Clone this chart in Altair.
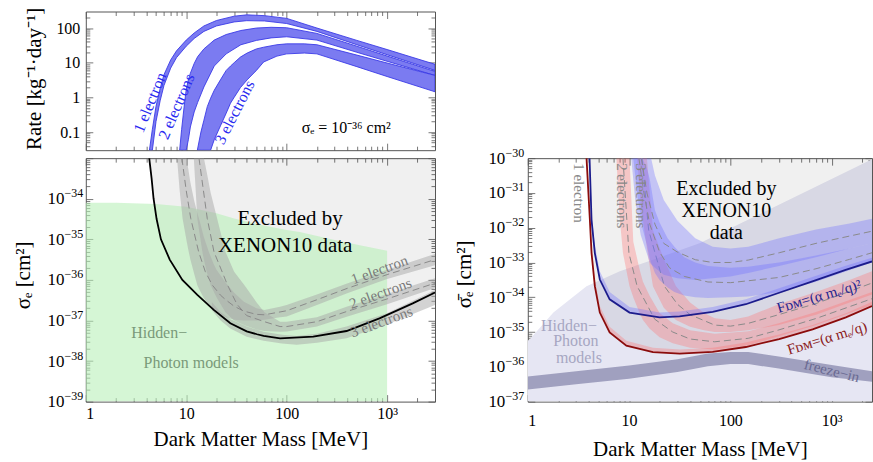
import math
import altair as alt
import pandas as pd

SERIF = "Liberation Serif"

# ---------------------------------------------------------------------------
# Axis ranges and tick labels
# ---------------------------------------------------------------------------
MASS_DOMAIN_L = [1, 3000]
MASS_DOMAIN_R = [1, 2500]
RATE_DOMAIN = [0.03, 300]
SIG_EXP_DOMAIN = [-39, -33]
SBAR_EXP_DOMAIN = [-37, -30]

MASS_TICKS = [1, 10, 100, 1000]
MASS_LABELS = ["1", "10", "100", "10³"]
RATE_TICKS = [0.1, 1, 10, 100]
RATE_LABELS = ["0.1", "1", "10", "100"]
SIG_TICK_EXPS = [-39, -38, -37, -36, -35, -34, -33]
SIG_LABEL_EXPS = [-39, -38, -37, -36, -35, -34]
SBAR_TICK_EXPS = [-37, -36, -35, -34, -33, -32, -31, -30]

# ---------------------------------------------------------------------------
# Upper panel: rates [kg^-1 day^-1] for sigma_e = 1e-36 cm^2 (band edges)
# ---------------------------------------------------------------------------
R1_M = [4.3, 4.6, 5, 5.5, 6, 7, 8, 10, 12, 15, 20, 30, 40, 60, 100, 200, 500, 1000, 3000]
R1_HI = [0.03, 0.12, 0.55, 1.8, 4.5, 12, 22, 45, 72, 115, 165, 220, 240, 228, 190, 100, 44, 24, 9]
R1_LO = [0.03, 0.03, 0.2, 0.8, 2.2, 7, 14, 30, 50, 80, 115, 150, 163, 160, 135, 80, 33, 17, 6]

R2_M = [8.6, 9, 9.5, 10, 10.5, 11, 12, 13, 15, 19, 25, 35, 50, 70, 100, 200, 500, 1000, 3000]
R2_HI = [0.03, 0.12, 0.5, 1.7, 3.2, 5, 9.5, 15, 25, 45, 65, 85, 100, 105, 102, 70, 30, 15.6, 5.6]
R2_LO = [0.03, 0.03, 0.03, 0.03, 0.06, 0.14, 0.38, 0.72, 2, 8, 18, 33, 44, 52, 56, 45, 20, 11, 4.3]

R3_M = [12.9, 14, 15, 16.2, 17.5, 19, 21.9, 25, 27.6, 30, 34.6, 40.4, 50, 59, 80, 100, 150, 200, 500, 1000, 3000]
R3_HI = [0.03, 0.1, 0.22, 0.54, 0.95, 1.6, 3.2, 6, 8, 10, 14.5, 19, 25, 28, 33, 35, 35, 33, 16.6, 9.8, 4.3]
R3_LO = [0.03, 0.03, 0.03, 0.03, 0.03, 0.06, 0.15, 0.35, 0.68, 1.0, 1.9, 3.2, 6, 10.5, 15.5, 18, 19, 18, 7.7, 4.0, 1.45]

# ---------------------------------------------------------------------------
# Lower-left panel: log10(sigma_e / cm^2)
# ---------------------------------------------------------------------------
LIM_M = [4.28, 4.52, 4.73, 5.07, 5.6, 6.85, 9.15, 12.9, 18.8, 27.5, 40, 50.6, 59, 86, 184, 395, 840, 1800, 3000]
LIM_V = [-33.0, -33.5, -34.0, -34.5, -35.0, -35.5, -36.0, -36.37, -36.74, -37.07, -37.27, -37.34, -37.38,
         -37.44, -37.40, -37.26, -36.95, -36.58, -36.31]

HP_M = [1, 2, 5, 10, 20, 30, 50, 100, 135, 300, 600, 1000]
HP_V = [-34.1, -34.1, -34.13, -34.2, -34.36, -34.49, -34.62, -34.77, -34.82, -35.02, -35.17, -35.28]

SA_M = [8.1, 8.6, 9.2, 10.1, 10.6, 11, 12, 12.9, 13.4, 15, 16.8, 18.7, 20, 25, 30, 37.5, 50, 60, 86, 100,
        200, 400, 1000, 3000]
SA_LO = [-33.0, -33.8, -34.49, -35.05, -35.31, -35.5, -35.85, -36.13, -36.22, -36.45, -36.62, -36.75, -36.8,
         -36.92, -36.98, -37.0, -37.0, -36.98, -36.92, -36.9, -36.62, -36.33, -35.98, -35.64]
SA_HI = [-33.0, -33.0, -33.0, -33.0, -33.35, -33.6, -34.05, -34.35, -34.49, -34.95, -35.31, -35.6, -35.75,
         -36.08, -36.32, -36.54, -36.7, -36.74, -36.66, -36.62, -36.36, -36.09, -35.75, -35.36]
SA_CM = [9.05, 10, 11.1, 13.3, 15.5, 18.2, 22, 25, 30, 37.5, 50, 60, 86, 100, 200, 400, 1000, 3000]
SA_CV = [-33.0, -33.8, -34.49, -35.31, -35.8, -36.13, -36.38, -36.5, -36.65, -36.77, -36.85, -36.86, -36.79,
         -36.76, -36.49, -36.21, -35.87, -35.5]

SB_M = [11.9, 12.9, 14.5, 15, 16, 17.5, 20.3, 24.6, 30, 38, 50, 60, 86, 100, 200, 395, 1000, 3000]
SB_LO = [-33.0, -34.49, -35.31, -35.5, -35.8, -36.13, -36.45, -36.8, -37.0, -37.12, -37.22, -37.26, -37.28,
         -37.27, -37.15, -36.91, -36.6, -36.2]
SB_HI = [-33.0, -33.0, -33.0, -33.0, -33.35, -33.85, -34.49, -35.31, -35.8, -36.13, -36.55, -36.8, -37.03,
         -37.03, -36.92, -36.66, -36.35, -35.96]
SB_CM = [13.4, 16.2, 18.9, 25.8, 32, 40, 60, 86, 100, 200, 395, 1000, 3000]
SB_CV = [-33.0, -34.49, -35.31, -36.13, -36.6, -36.88, -37.03, -37.15, -37.15, -37.03, -36.78, -36.47, -36.08]

SC_M = [18, 22, 27.5, 40, 59, 90, 126, 200, 395, 1000, 3000]
SC_LO = [-36.75, -37.0, -37.2, -37.4, -37.5, -37.57, -37.6, -37.55, -37.44, -37.1, -36.62]
SC_HI = [-36.55, -36.8, -36.97, -37.15, -37.28, -37.35, -37.38, -37.33, -37.15, -36.82, -36.25]

# ---------------------------------------------------------------------------
# Right panel: log10(sigma_bar_e / cm^2)
# ---------------------------------------------------------------------------
HPR_M = [1, 1.05, 1.79, 3.8, 8.1, 17.2, 49.6, 2500]
HPR_V = [-35.25, -35.2, -34.44, -33.68, -33.25, -32.92, -32.45, -30.03]

RED_M = [3.8, 4.1, 4.26, 4.59, 5.14, 6.43, 9.4, 17.2, 31.6, 66.8, 142, 303, 648, 1380, 2500]
RED_V = [-30.0, -31.78, -32.73, -33.68, -34.44, -35.01, -35.39, -35.58, -35.62, -35.57, -35.43, -35.2,
         -34.92, -34.58, -34.25]
RED_BAND = [-30.0, -31.6, -32.5, -33.45, -34.25, -34.85, -35.25, -35.45, -35.5, -35.45, -35.3, -35.07,
            -34.8, -34.46, -34.13]

BLUE_M = [4.07, 4.26, 4.59, 5.14, 6.43, 10.1, 20, 31.5, 66.9, 142, 303, 646, 1374, 2500]
BLUE_V = [-30.0, -31.78, -32.73, -33.49, -34.06, -34.44, -34.58, -34.55, -34.42, -34.2, -33.87, -33.54,
          -33.21, -32.97]
BLUE_BAND = [-30.0, -31.6, -32.5, -33.25, -33.85, -34.28, -34.44, -34.41, -34.28, -34.06, -33.74, -33.42,
             -33.09, -32.86]

FI_M = [1, 3, 10, 30, 60, 100, 150, 300, 1000, 2500]
FI_LO = [-36.65, -36.5, -36.34, -36.15, -35.98, -35.92, -35.92, -36.05, -36.3, -36.43]
FI_HI = [-36.28, -36.13, -35.96, -35.78, -35.62, -35.57, -35.57, -35.7, -35.95, -36.13]

PA_M = [7.5, 8, 8.7, 10.1, 11, 12.7, 13.7, 15.9, 20, 27, 40, 70, 150, 300, 700, 1500, 2500]
PA_LO = [-30, -31.6, -32.73, -33.68, -34.0, -34.45, -34.65, -34.9, -35.15, -35.32, -35.45, -35.5, -35.38,
         -35.12, -34.8, -34.45, -34.22]
PA_HI = [-30, -30, -30, -30, -32.4, -33.2, -33.55, -33.95, -34.45, -34.75, -34.95, -35.05, -34.98, -34.75,
         -34.42, -34.08, -33.85]
PA_CM = [8.7, 9.96, 12, 17.9, 27, 40, 70, 150, 300, 700, 1500, 2500]
PA_CV = [-30, -32.73, -33.68, -34.63, -35.0, -35.2, -35.28, -35.18, -34.94, -34.61, -34.27, -34.04]

PB_M = [12, 13, 14.5, 15, 17.2, 22, 29, 40, 55, 70, 100, 150, 300, 700, 1500, 2500]
PB_LO = [-30, -31.3, -32.3, -32.6, -33.68, -34.3, -34.65, -34.85, -34.95, -35.0, -35.0, -34.95, -34.8,
         -34.5, -34.15, -33.92]
PB_HI = [-30, -30, -30, -30, -32.07, -32.9, -33.68, -34.15, -34.45, -34.6, -34.65, -34.55, -34.2, -33.85,
         -33.5, -33.25]
PB_CM = [13.4, 15.6, 22.3, 30, 40, 70, 100, 150, 300, 700, 1500, 2500]
PB_CV = [-30, -32.07, -33.68, -34.2, -34.5, -34.8, -34.83, -34.75, -34.5, -34.18, -33.83, -33.59]

BU_M = [10.5, 11.5, 13, 16, 16.5, 18, 22, 30, 45, 67, 100, 150, 303, 700, 1500, 2500]
BU_LO = [-30, -31.2, -32.2, -33.0, -33.05, -33.15, -33.35, -33.45, -33.5, -33.45, -33.4, -33.3, -33.1,
         -32.85, -32.6, -32.45]
BU_HI = [-30, -30, -30, -30, -30, -30.5, -31.2, -31.8, -32.3, -32.55, -32.6, -32.55, -32.3, -32.05,
         -31.88, -31.74]
BU_CM = [13.2, 15, 18, 22, 30, 45, 67, 100, 150, 303, 700, 1500, 2500]
BU_CV = [-30, -31.0, -31.9, -32.45, -32.7, -32.92, -33.0, -33.0, -32.93, -32.72, -32.45, -32.24, -32.1]

BL_M = [11, 12, 13.5, 15, 16, 18, 20, 24, 28, 35, 45, 60, 100, 150, 303, 700, 1500, 2500]
BL_LO = [-30, -31.0, -32.0, -32.5, -32.9, -33.3, -33.5, -33.72, -33.85, -33.95, -34.0, -34.02, -34.0,
         -33.98, -33.85, -33.55, -33.22, -32.99]
BL_HI = [-30, -30, -30, -30.3, -30.6, -31.5, -31.85, -32.3, -32.55, -32.85, -33.0, -33.1, -33.15, -33.12,
         -33.0, -32.8, -32.6, -32.45]
BL_CM = [12.5, 14, 16, 20, 25, 35, 60, 100, 303, 700, 1500, 2500]
BL_CV = [-30, -31.0, -31.9, -32.7, -33.15, -33.4, -33.56, -33.58, -33.43, -33.18, -32.91, -32.72]


# ---------------------------------------------------------------------------
# helpers
# ---------------------------------------------------------------------------
def sci(exps):
    return [10.0 ** e for e in exps]


def label_expr(labels, shift):
    arr = ",".join("'" + s + "'" for s in labels)
    return "[" + arr + "][round(log(datum.value)/LN10) + " + str(shift) + "]"


def minor_ticks(lo, hi):
    out = []
    d = math.floor(math.log10(lo)) - 1
    while 10.0 ** d <= hi:
        for k in range(2, 10):
            v = float(f"{k}e{d}")
            if lo < v < hi:
                out.append(v)
        d += 1
    return out


def band(m, lo, hi, xs, ys, **mark):
    df = pd.DataFrame({"m": m, "lo": lo, "hi": hi})
    return alt.Chart(df).mark_area(clip=True, **mark).encode(
        x=alt.X("m:Q", scale=xs, axis=None),
        y=alt.Y("lo:Q", scale=ys, axis=None),
        y2=alt.Y2("hi:Q"),
    )


def curve(m, v, xs, ys, **mark):
    df = pd.DataFrame({"m": m, "v": v})
    return alt.Chart(df).mark_line(clip=True, **mark).encode(
        x=alt.X("m:Q", scale=xs, axis=None),
        y=alt.Y("v:Q", scale=ys, axis=None),
    )


def note(text, m, v, xs, ys, **mark):
    df = pd.DataFrame({"m": [m], "v": [v], "t": [text]})
    opts = dict(font=SERIF, align="center", baseline="middle")
    opts.update(mark)
    return alt.Chart(df).mark_text(**opts).encode(
        x=alt.X("m:Q", scale=xs, axis=None),
        y=alt.Y("v:Q", scale=ys, axis=None),
        text="t:N",
    )


def tick_axis(orient, values, size):
    return alt.Axis(orient=orient, values=values, labels=False, domain=False, grid=False,
                    ticks=True, tickSize=size, offset=-size, tickColor="#555555",
                    tickWidth=0.8, title=None)


def frame(xs, ys, xdom, ydom, xmajor, ymajor):
    anchor = pd.DataFrame({"m": [xdom[0]], "v": [ydom[0]]})
    xminor = minor_ticks(*xdom)
    yminor = minor_ticks(*ydom)
    out = []
    for xo, yo in (("bottom", "left"), ("top", "right")):
        for xv, yv, size in ((xmajor, ymajor, 7), (xminor, yminor, 4)):
            out.append(alt.Chart(anchor).mark_point(opacity=0, size=1).encode(
                x=alt.X("m:Q", scale=xs, axis=tick_axis(xo, xv, size)),
                y=alt.Y("v:Q", scale=ys, axis=tick_axis(yo, yv, size)),
            ))
    return out


def guide(xs, ys, xdom, ydom, x_axis, y_axis):
    anchor = pd.DataFrame({"m": [xdom[0]], "v": [ydom[0]]})
    return alt.Chart(anchor).mark_point(opacity=0, size=1).encode(
        x=alt.X("m:Q", scale=xs, axis=x_axis),
        y=alt.Y("v:Q", scale=ys, axis=y_axis),
    )


def power_axes(exps, pad, title, title_x, title_y):
    """Left-axis labels drawn as a base '10' plus a raised, smaller exponent."""
    shift = -exps[0]
    base = alt.Axis(orient="left", values=sci(exps), labelExpr="'10'", ticks=False, domain=False,
                    grid=False, labelPadding=pad + 19, labelFontSize=17,
                    title=title, titleX=title_x, titleY=title_y, titleAngle=270,
                    titleAlign="center", titleBaseline="alphabetic")
    expo = alt.Axis(orient="left", values=sci(exps),
                    labelExpr=label_expr(["−" + str(-e) for e in exps], shift),
                    ticks=False, domain=False, grid=False, labelPadding=pad, labelFontSize=12,
                    labelOffset=-6, title=None)
    return base, expo


# ---------------------------------------------------------------------------
# scales
# ---------------------------------------------------------------------------
SIG_DOMAIN = sci(SIG_EXP_DOMAIN)
SBAR_DOMAIN = sci(SBAR_EXP_DOMAIN)
X_L = alt.Scale(type="log", domain=MASS_DOMAIN_L, nice=False)
X_R = alt.Scale(type="log", domain=MASS_DOMAIN_R, nice=False)
Y_RATE = alt.Scale(type="log", domain=RATE_DOMAIN, nice=False)
Y_SIG = alt.Scale(type="log", domain=SIG_DOMAIN, nice=False)
Y_SBAR = alt.Scale(type="log", domain=SBAR_DOMAIN, nice=False)

mass_axis = dict(orient="bottom", values=MASS_TICKS, labelExpr=label_expr(MASS_LABELS, 0),
                 ticks=False, domain=False, grid=False, title="Dark Matter Mass [MeV]")

# ---------------------------------------------------------------------------
# upper-left: rates
# ---------------------------------------------------------------------------
rate_style = dict(fill="#7b7bf1", stroke="#3a3ae6", strokeWidth=0.9)
ELECTRON_BLUE = "#2a2af0"
top_layers = [
    band(R1_M, R1_LO, R1_HI, X_L, Y_RATE, **rate_style),
    band(R2_M, R2_LO, R2_HI, X_L, Y_RATE, **rate_style),
    band(R3_M, R3_LO, R3_HI, X_L, Y_RATE, **rate_style),
    note("1 electron", 4.37, 0.71, X_L, Y_RATE, angle=292, fontSize=16, color=ELECTRON_BLUE),
    note("2 electrons", 8.03, 0.54, X_L, Y_RATE, angle=293, fontSize=16, color=ELECTRON_BLUE),
    note("3 electrons", 30.4, 0.37, X_L, Y_RATE, angle=297, fontSize=16, color=ELECTRON_BLUE),
    note("σₑ = 10⁻³⁶ cm²", 392, 0.13, X_L, Y_RATE, fontSize=16, color="#000000"),
    guide(X_L, Y_RATE, MASS_DOMAIN_L, RATE_DOMAIN, None,
          alt.Axis(orient="left", values=RATE_TICKS, labelExpr=label_expr(RATE_LABELS, 1),
                   ticks=False, domain=False, grid=False, labelPadding=6,
                   title="Rate [kg⁻¹·day⁻¹]", titleX=-45, titleY=67, titleAngle=270,
                   titleAlign="center", titleBaseline="alphabetic")),
] + frame(X_L, Y_RATE, MASS_DOMAIN_L, RATE_DOMAIN, MASS_TICKS, RATE_TICKS)

top_left = alt.layer(*top_layers).resolve_axis(x="independent", y="independent").properties(
    width=350, height=139)

# ---------------------------------------------------------------------------
# lower-left: sigma_e limits
# ---------------------------------------------------------------------------
gray_band = dict(fill="#a8a8a8", fillOpacity=0.5)
dash = dict(stroke="#8a8a8a", strokeWidth=1, strokeDash=[7, 4])
LABEL_GRAY = "#7a7a7a"
sig_base, sig_exp = power_axes(SIG_LABEL_EXPS, 3, "σₑ [cm²]", -56, 117)
bl_layers = [
    band(LIM_M, sci(LIM_V), [SIG_DOMAIN[1]] * len(LIM_M), X_L, Y_SIG, fill="#000000", fillOpacity=0.06),
    band(HP_M, [SIG_DOMAIN[0]] * len(HP_M), sci(HP_V), X_L, Y_SIG, fill="#b9f0b9", fillOpacity=0.6),
    band(SA_M, sci(SA_LO), sci(SA_HI), X_L, Y_SIG, **gray_band),
    band(SB_M, sci(SB_LO), sci(SB_HI), X_L, Y_SIG, **gray_band),
    band(SC_M, sci(SC_LO), sci(SC_HI), X_L, Y_SIG, **gray_band),
    curve(SA_CM, sci(SA_CV), X_L, Y_SIG, **dash),
    curve(SB_CM, sci(SB_CV), X_L, Y_SIG, **dash),
    curve(LIM_M, sci(LIM_V), X_L, Y_SIG, stroke="#000000", strokeWidth=1.8),
    note("Excluded by", 108, 10 ** -34.51, X_L, Y_SIG, fontSize=21, color="#000000"),
    note("XENON10 data", 96.6, 10 ** -35.16, X_L, Y_SIG, fontSize=21, color="#000000"),
    note("1 electron", 840, 10 ** -35.75, X_L, Y_SIG, angle=340, fontSize=15, color=LABEL_GRAY),
    note("2 electrons", 858, 10 ** -36.33, X_L, Y_SIG, angle=340, fontSize=15, color=LABEL_GRAY),
    note("3 electrons", 877, 10 ** -37.03, X_L, Y_SIG, angle=340, fontSize=15, color=LABEL_GRAY),
    note("Hidden−", 5.38, 10 ** -37.32, X_L, Y_SIG, fontSize=16, color="#7a9a7a"),
    note("Photon models", 11.2, 10 ** -38.04, X_L, Y_SIG, fontSize=16, color="#7a9a7a"),
    guide(X_L, Y_SIG, MASS_DOMAIN_L, SIG_DOMAIN,
          alt.Axis(labelPadding=4, titlePadding=7, **mass_axis), sig_base),
    guide(X_L, Y_SIG, MASS_DOMAIN_L, SIG_DOMAIN, None, sig_exp),
] + frame(X_L, Y_SIG, MASS_DOMAIN_L, SIG_DOMAIN, MASS_TICKS, sci(SIG_TICK_EXPS))

bottom_left = alt.layer(*bl_layers).resolve_axis(x="independent", y="independent").properties(
    width=350, height=244)

# ---------------------------------------------------------------------------
# right: sigma_bar_e limits
# ---------------------------------------------------------------------------
pink = dict(fill="#ff6f6f", fillOpacity=0.33)
blue = dict(fill="#7070ff", fillOpacity=0.34)
sbar_base, sbar_exp = power_axes(SBAR_TICK_EXPS, 4, "σ\u0304ₑ [cm²]", -57, 116)
r_layers = [
    band(HPR_M, [SBAR_DOMAIN[0]] * len(HPR_M), sci(HPR_V), X_R, Y_SBAR, fill="#e6e6f3"),
    band(RED_M, sci(RED_V), [SBAR_DOMAIN[1]] * len(RED_M), X_R, Y_SBAR, fill="#000000", fillOpacity=0.06),
    band(FI_M, sci(FI_LO), sci(FI_HI), X_R, Y_SBAR, fill="#a0a0bf"),
    band(PA_M, sci(PA_LO), sci(PA_HI), X_R, Y_SBAR, **pink),
    band(PB_M, sci(PB_LO), sci(PB_HI), X_R, Y_SBAR, **pink),
    curve(PA_CM, sci(PA_CV), X_R, Y_SBAR, **dash),
    curve(PB_CM, sci(PB_CV), X_R, Y_SBAR, **dash),
    band(BU_M, sci(BU_LO), sci(BU_HI), X_R, Y_SBAR, **blue),
    band(BL_M, sci(BL_LO), sci(BL_HI), X_R, Y_SBAR, **blue),
    curve(BU_CM, sci(BU_CV), X_R, Y_SBAR, **dash),
    curve(BL_CM, sci(BL_CV), X_R, Y_SBAR, **dash),
    band(RED_M, sci(RED_V), sci(RED_BAND), X_R, Y_SBAR, **pink),
    band(BLUE_M, sci(BLUE_V), sci(BLUE_BAND), X_R, Y_SBAR, **blue),
    curve(RED_M, sci(RED_V), X_R, Y_SBAR, stroke="#8b0c0c", strokeWidth=1.8),
    curve(BLUE_M, sci(BLUE_V), X_R, Y_SBAR, stroke="#1c1c8c", strokeWidth=1.8),
    note("Excluded by", 91.2, 10 ** -30.886, X_R, Y_SBAR, fontSize=20, color="#000000"),
    note("XENON10", 91.2, 10 ** -31.506, X_R, Y_SBAR, fontSize=20, color="#000000"),
    note("data", 91.2, 10 ** -32.15, X_R, Y_SBAR, fontSize=20, color="#000000"),
    note("1 electron", 3.2, 10 ** -31.0, X_R, Y_SBAR, angle=90, fontSize=15, color="#888888"),
    note("2 electrons", 8.55, 10 ** -31.08, X_R, Y_SBAR, angle=90, fontSize=15, color="#888888"),
    note("3 electrons", 13.0, 10 ** -31.08, X_R, Y_SBAR, angle=90, fontSize=15, color="#888888"),
    note("Hidden−", 2.55, 10 ** -34.82, X_R, Y_SBAR, fontSize=16, color="#a6a6c2"),
    note("Photon", 2.98, 10 ** -35.27, X_R, Y_SBAR, fontSize=16, color="#a6a6c2"),
    note("models", 3.2, 10 ** -35.74, X_R, Y_SBAR, fontSize=16, color="#a6a6c2"),
    note("Fᴅᴍ=(α mₑ/q)²", 748, 10 ** -33.97, X_R, Y_SBAR, angle=344, fontSize=15, color="#24248f"),
    note("Fᴅᴍ=(α mₑ/q)", 898, 10 ** -35.17, X_R, Y_SBAR, angle=343, fontSize=15, color="#8b1a1a",
         clip=True),
    note("freeze−in", 1004, 10 ** -36.11, X_R, Y_SBAR, angle=14, fontSize=15, color="#6a6a92"),
    guide(X_R, Y_SBAR, MASS_DOMAIN_R, SBAR_DOMAIN,
          alt.Axis(labelPadding=11, titlePadding=10, **mass_axis), sbar_base),
    guide(X_R, Y_SBAR, MASS_DOMAIN_R, SBAR_DOMAIN, None, sbar_exp),
] + frame(X_R, Y_SBAR, MASS_DOMAIN_R, SBAR_DOMAIN, MASS_TICKS, sci(SBAR_TICK_EXPS))

right = alt.layer(*r_layers).resolve_axis(x="independent", y="independent").properties(
    width=345, height=244)

chart = alt.vconcat(
    top_left,
    alt.hconcat(bottom_left, right, spacing=93, bounds="flush"),
    spacing=8,
    bounds="flush",
).properties(
    padding={"left": 12, "top": 6, "right": 0, "bottom": 0},
).configure_view(
    stroke="#555555", strokeWidth=1,
).configure_axis(
    labelFont=SERIF, titleFont=SERIF, labelFontSize=16, titleFontSize=21,
    titleFontWeight="normal", labelColor="#000000", titleColor="#000000",
)

chart.save("out.html", embed_options={"renderer": "svg", "actions": False})
